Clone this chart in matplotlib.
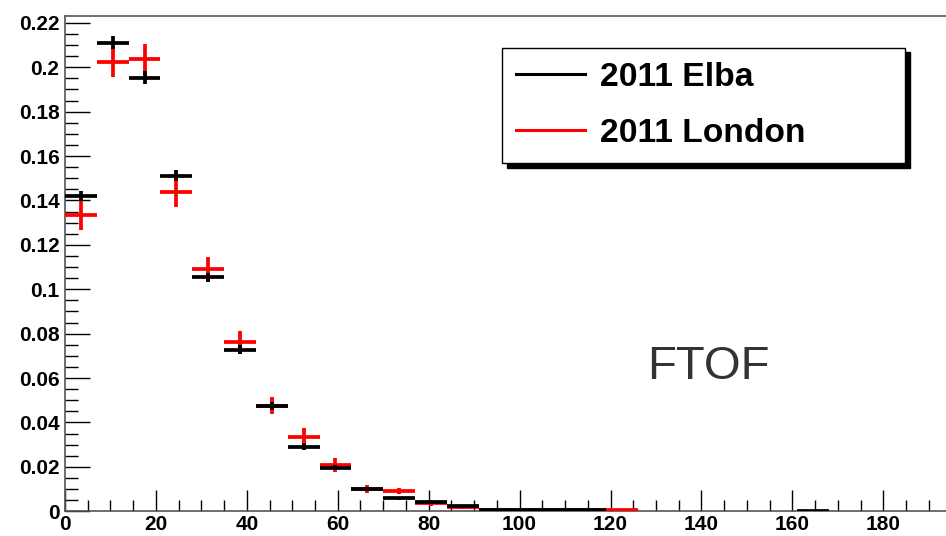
import numpy as np
import matplotlib
matplotlib.use("Agg")
from matplotlib import pyplot as plt
from matplotlib.lines import Line2D
from matplotlib.ticker import MultipleLocator, FuncFormatter

# bin edges: 7 units wide, starting at 0
bin_width = 7.0
elba_bins = [0, 1, 2, 3, 4, 5, 6, 7, 8, 9, 10, 11, 12, 13, 14, 15, 16, 23]
elba_vals = [0.142, 0.211, 0.1953, 0.1512, 0.1054, 0.0727, 0.0474, 0.0291, 0.0196,
             0.0100, 0.0059, 0.0043, 0.0024, 0.0006, 0.0006, 0.0005, 0.0005, 0.0003]
elba_errs = [0.0023, 0.003, 0.003, 0.0026, 0.002, 0.002, 0.002, 0.0015, 0.0012,
             0.0009, 0.0007, 0.0006, 0.0004, 0.0002, 0.0002, 0.0002, 0.0002, 0.0002]

london_bins = [0, 1, 2, 3, 4, 5, 6, 7, 8, 9, 10, 11, 12, 13, 14, 15, 16, 17]
london_vals = [0.1335, 0.2025, 0.2036, 0.1437, 0.1091, 0.0761, 0.0476, 0.0336, 0.0209,
               0.0100, 0.0091, 0.0036, 0.0018, 0.0005, 0.0005, 0.0006, 0.0006, 0.0006]
london_errs = [0.007, 0.0068, 0.007, 0.0068, 0.0055, 0.0053, 0.004, 0.004, 0.0033,
               0.0019, 0.0015, 0.0011, 0.0008, 0.0003, 0.0003, 0.0003, 0.0003, 0.0003]

labels = ["2011 Elba", "2011 London"]

def centers(bins):
    return (np.array(bins) + 0.5) * bin_width

fig = plt.figure(figsize=(9.46, 5.36), dpi=100)
ax = fig.add_axes([65 / 946, 24.7 / 536, 881 / 946, 495.6 / 536])

ax.errorbar(centers(london_bins), london_vals, xerr=bin_width / 2, yerr=london_errs,
            fmt="none", ecolor="#ff0000", elinewidth=2.7, capsize=0, zorder=3)
ax.errorbar(centers(elba_bins), elba_vals, xerr=bin_width / 2, yerr=elba_errs,
            fmt="none", ecolor="black", elinewidth=2.7, capsize=0, zorder=4)

ax.set_xlim(0, 193.8)
ax.set_ylim(0, 0.2232)

ax.xaxis.set_major_locator(MultipleLocator(20))
ax.xaxis.set_minor_locator(MultipleLocator(5))
ax.yaxis.set_major_locator(MultipleLocator(0.02))
ax.yaxis.set_minor_locator(MultipleLocator(0.005))
ax.yaxis.set_major_formatter(FuncFormatter(lambda v, p: "%g" % round(v, 3)))

ax.tick_params(which="both", direction="in", top=False, right=False, color="black", width=1)
ax.tick_params(which="major", axis="y", length=18)
ax.tick_params(which="minor", axis="y", length=9)
ax.tick_params(which="major", axis="x", length=15)
ax.tick_params(which="minor", axis="x", length=8)
ax.tick_params(axis="y", pad=4)
ax.tick_params(axis="x", pad=3)
for lab in ax.get_xticklabels() + ax.get_yticklabels():
    lab.set_fontfamily("Liberation Sans")
    lab.set_fontweight("bold")
    lab.set_fontsize(15)

for s in ["left", "bottom", "top"]:
    ax.spines[s].set_color("#555555")
    ax.spines[s].set_linewidth(1.2)
ax.spines["right"].set_visible(False)

handles = [Line2D([], [], color="black", lw=2.2), Line2D([], [], color="#ff0000", lw=2.2)]
leg = ax.legend(handles, labels, loc="upper left",
                bbox_to_anchor=(502 / 946, 1 - 47.5 / 536, 403 / 946, 0),
                bbox_transform=fig.transFigure, mode="expand", fancybox=False, framealpha=1,
                edgecolor="black", borderpad=0.43, handlelength=2.05, handletextpad=0.45,
                labelspacing=0.74, borderaxespad=0,
                shadow={"ox": 3.5, "oy": -3.5, "color": "black", "alpha": 1},
                prop={"family": "Liberation Sans", "weight": "bold", "size": 24.2})
leg.get_frame().set_linewidth(1.0)

ax.text(128, 0.0595, "FTOF", fontsize=34, family="Liberation Sans", color="#333333",
        va="baseline", ha="left")

fig.savefig("out.png", dpi=100)
